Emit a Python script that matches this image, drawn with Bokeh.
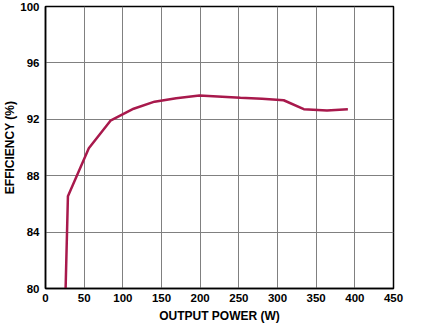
from bokeh.plotting import figure
from bokeh.models import Range1d, FixedTicker, Label
from bokeh.embed import file_html
from bokeh.resources import INLINE
import math

# Data
power_w = [26, 29, 56, 84, 114, 141, 169, 199, 252, 280, 308, 334, 364, 391]
efficiency_pct = [80, 86.55, 89.95, 91.9, 92.75, 93.25, 93.5, 93.68, 93.52, 93.45, 93.35, 92.72, 92.63, 92.72]

x_ticks = [0, 50, 100, 150, 200, 250, 300, 350, 400, 450]
y_ticks = [80, 84, 88, 92, 96, 100]

FONT = "Liberation Sans"

p = figure(width=419, height=325, output_backend="svg", toolbar_location=None,
           x_range=Range1d(0, 450), y_range=Range1d(80, 100),
           min_border_left=39, min_border_right=26, min_border_top=6, min_border_bottom=36)

p.background_fill_color = "white"
p.border_fill_color = "white"
p.outline_line_color = "black"
p.outline_line_width = 1.5

p.line(power_w, efficiency_pct, line_color="#A8194C", line_width=2.5)

for ax in (p.xaxis[0], p.yaxis[0]):
    ax.major_tick_line_color = None
    ax.minor_tick_line_color = None
    ax.major_tick_out = 0
    ax.major_tick_in = 0
    ax.minor_tick_out = 0
    ax.minor_tick_in = 0
    ax.axis_line_color = "black"
    ax.axis_line_width = 1.5
    ax.major_label_text_font = FONT
    ax.major_label_text_font_style = "bold"
    ax.major_label_text_font_size = "11.5px"
    ax.major_label_text_color = "black"
    ax.axis_label_text_font = FONT
    ax.axis_label_text_font_style = "bold"
    ax.axis_label_text_font_size = "12px"
    ax.axis_label_text_color = "black"

p.xaxis.ticker = FixedTicker(ticks=x_ticks)
p.yaxis.ticker = FixedTicker(ticks=y_ticks)
p.xaxis.axis_label = "OUTPUT POWER (W)"
p.yaxis.axis_label = "EFFICIENCY (%)"
p.xaxis.major_label_standoff = 5
p.xaxis.axis_label_standoff = 4
p.yaxis.major_label_standoff = 6
p.yaxis.axis_label_standoff = 0

p.xgrid.ticker = FixedTicker(ticks=x_ticks)
p.ygrid.ticker = FixedTicker(ticks=y_ticks)
p.grid.grid_line_color = "#808080"
p.grid.grid_line_width = 1

p.add_layout(Label(x=371, y=-29, x_units="screen", y_units="screen", text="020",
                   angle=math.pi / 2, text_font=FONT, text_font_size="7px",
                   text_color="#555555", text_align="center", text_baseline="middle"))

open("out.html", "w").write(file_html(p, INLINE))
